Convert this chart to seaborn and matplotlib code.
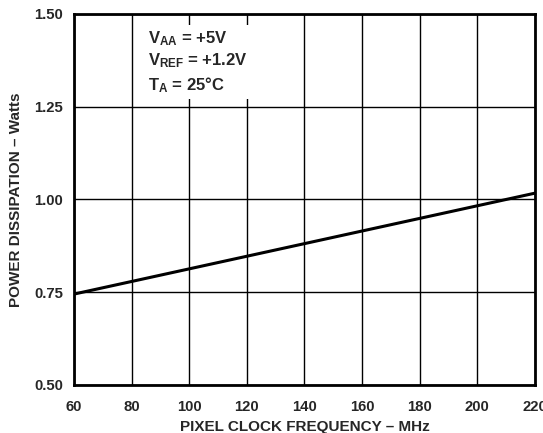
import matplotlib
matplotlib.use("Agg")
import matplotlib.pyplot as plt
import seaborn as sns
import pandas as pd

# values
freq_mhz = [60, 80, 100, 120, 140, 160, 180, 200, 220]
power_w = [0.745, 0.779, 0.813, 0.847, 0.881, 0.915, 0.949, 0.983, 1.017]
x_ticks = [60, 80, 100, 120, 140, 160, 180, 200, 220]
y_ticks = [0.50, 0.75, 1.00, 1.25, 1.50]
conditions = ["V$_{AA}$ = +5V", "V$_{REF}$ = +1.2V", "T$_{A}$ = 25°C"]

sns.set_style("white")
plt.rcParams['font.family'] = ['Liberation Sans', 'DejaVu Sans']
plt.rcParams['font.weight'] = 'bold'
plt.rcParams['mathtext.fontset'] = 'custom'
plt.rcParams['mathtext.rm'] = 'Liberation Sans:bold'
plt.rcParams['mathtext.it'] = 'Liberation Sans:bold'
plt.rcParams['mathtext.bf'] = 'Liberation Sans:bold'

df = pd.DataFrame({'freq': freq_mhz, 'power': power_w})

fig = plt.figure(figsize=(5.43, 4.33), dpi=100)
ax = fig.add_axes([0.1363, 0.1109, 0.8487, 0.8568])

sns.lineplot(data=df, x='freq', y='power', color='black', linewidth=2.2, ax=ax, zorder=3)

ax.set_xlim(60, 220)
ax.set_ylim(0.5, 1.5)
ax.set_xticks(x_ticks)
ax.set_yticks(y_ticks)
ax.set_xticklabels([str(t) for t in x_ticks], fontsize=10.7, fontweight='bold')
ax.set_yticklabels([f"{t:.2f}" for t in y_ticks], fontsize=10.7, fontweight='bold')
ax.tick_params(axis='x', length=0, pad=11)
ax.tick_params(axis='y', length=0, pad=8)
ax.grid(True, color='black', linewidth=1.0)
for s in ax.spines.values():
    s.set_visible(True)
    s.set_color('black')
    s.set_linewidth(2.0)

ax.set_xlabel('PIXEL CLOCK FREQUENCY – MHz', fontsize=11, fontweight='bold', labelpad=4)
ax.set_ylabel('POWER DISSIPATION – Watts', fontsize=11, fontweight='bold', labelpad=8)

ax.text(85.6, 1.46, "\n".join(conditions), fontsize=12, va='top', ha='left',
        linespacing=1.3, zorder=4,
        bbox=dict(facecolor='white', edgecolor='none', pad=3))

fig.savefig('out.png', dpi=100)
